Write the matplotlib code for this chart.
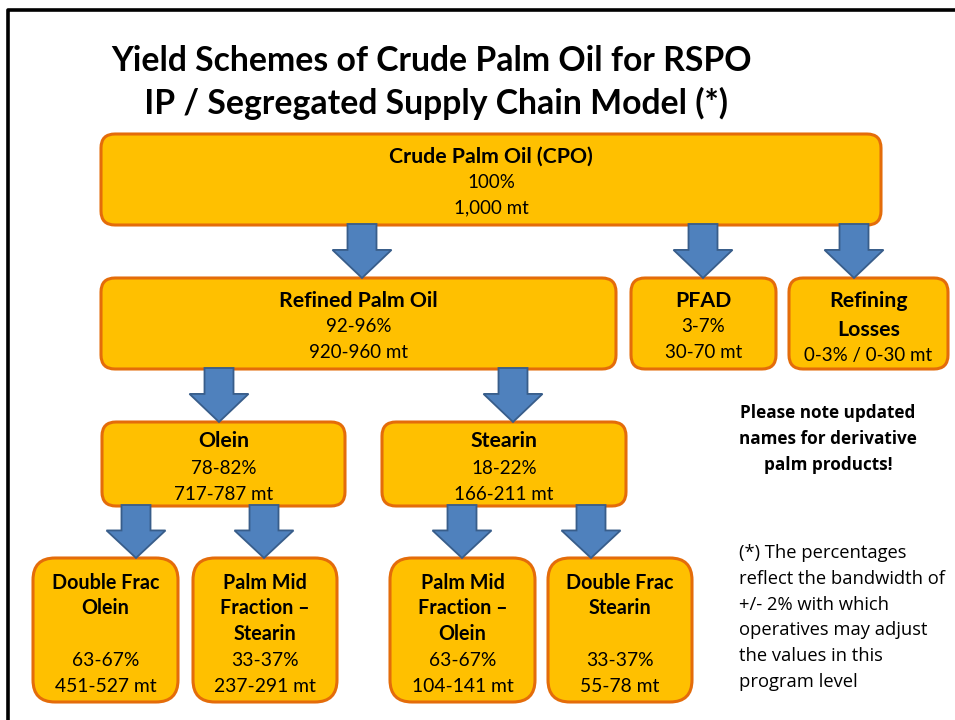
import matplotlib
matplotlib.use("Agg")
import matplotlib.pyplot as plt
from matplotlib.patches import FancyBboxPatch, Polygon
from matplotlib.lines import Line2D

# chart content
title_lines = ["Yield Schemes of Crude Palm Oil for RSPO",
               " IP / Segregated Supply Chain Model (*)"]

node_names = ["Crude Palm Oil (CPO)", "Refined Palm Oil", "PFAD", "Refining\nLosses",
              "Olein", "Stearin",
              "Double Frac\nOlein\n", "Palm Mid\nFraction \u2013\nStearin",
              "Palm Mid\nFraction \u2013\nOlein", "Double Frac\nStearin\n"]
node_pcts = ["100%", "92-96%", "3-7%", "0-3% / 0-30 mt",
             "78-82%", "18-22%",
             "63-67%", "33-37%", "63-67%", "33-37%"]
node_mt = ["1,000 mt", "920-960 mt", "30-70 mt", "",
           "717-787 mt", "166-211 mt",
           "451-527 mt", "237-291 mt", "104-141 mt", "55-78 mt"]
# parent index of each node (None = root)
node_parent = [None, 0, 0, 0, 1, 1, 4, 4, 5, 5]

note_lines = ["Please note updated", "names for derivative", "palm products!"]
foot_lines = ["(*) The percentages", "reflect the bandwidth of",
              "+/- 2% with which", "operatives may adjust",
              "the values in this", "program level"]

# layout (pixels): left, top, right, bottom, corner radius
boxes = [(101, 134, 881, 225, 14),
         (101, 278, 616, 369, 14),
         (631, 278, 776, 369, 14),
         (789, 278, 948, 369, 14),
         (102, 422, 345, 506, 14),
         (382, 422, 626, 506, 14),
         (33, 558, 178, 702, 22),
         (193, 558, 337, 702, 22),
         (390, 558, 535, 702, 22),
         (548, 558, 692, 702, 22)]
# arrow centre x for each child node
arrow_x = [None, 362, 703, 854, 219, 513, 136, 264, 462, 591]

FILL = "#FFC000"
EDGE = "#E46C0A"
AFILL = "#4F81BD"
AEDGE = "#385D8A"
SANS = ["Lato", "DejaVu Sans"]
SEGOE = ["Open Sans", "DejaVu Sans"]
NAME_FS = 15.3
NUM_FS = 13.5
SMALL_NAME_FS = 14.2

fig = plt.figure(figsize=(9.55, 7.2), dpi=100)
ax = fig.add_axes([0, 0, 1, 1])
ax.set_xlim(0, 955)
ax.set_ylim(720, 0)
ax.axis("off")

# slide frame (only left and top edges visible)
ax.add_line(Line2D([8, 8, 955], [720, 10, 10], color="black", lw=2.6))

ax.text(432, 61, title_lines[0], ha="center", va="center",
        fontsize=24.3, fontweight="bold", family=SANS)
ax.text(432, 103, title_lines[1], ha="center", va="center",
        fontsize=24.3, fontweight="bold", family=SANS)


def arrow(cx, top, tip):
    sw, hw = 14.5, 29.5
    neck = tip - (tip - top) * 0.52
    pts = [(cx - sw, top), (cx + sw, top), (cx + sw, neck), (cx + hw, neck),
           (cx, tip), (cx - hw, neck), (cx - sw, neck)]
    ax.add_patch(Polygon(pts, closed=True, fc=AFILL, ec=AEDGE, lw=1.3, zorder=3))


def label(x, y, s, fs, bold=False):
    ax.text(x, y, s, ha="center", va="center", fontsize=fs,
            fontweight="bold" if bold else "normal", family=SANS, zorder=4)


for i, (l, t, r, b, rad) in enumerate(boxes):
    ax.add_patch(FancyBboxPatch((l, t), r - l, b - t,
                                boxstyle="round,pad=0,rounding_size=%d" % rad,
                                fc=FILL, ec=EDGE, lw=2.2, zorder=2))
    cx = (l + r) / 2
    p = node_parent[i]
    if p is not None:
        arrow(arrow_x[i], boxes[p][3] - 1, t)

    name = node_names[i]
    if i in (0, 1, 2, 4, 5):
        dy = 25 if i != 4 and i != 5 else 26
        top = t + 23 if i < 4 else t + 19
        label(cx, top, name, NAME_FS, True)
        label(cx, top + dy + 1, node_pcts[i], NUM_FS)
        label(cx, top + 2 * dy + 1, node_mt[i], NUM_FS)
    elif i == 3:
        for k, line in enumerate(name.split("\n")):
            label(cx, t + 23 + 29 * k, line, NAME_FS, True)
        label(cx, t + 78, node_pcts[i], NUM_FS)
    else:
        for k, line in enumerate(name.split("\n")):
            if line:
                label(cx, t + 25 + 25.5 * k, line, SMALL_NAME_FS, True)
        label(cx, t + 102, node_pcts[i], NUM_FS + 0.4)
        label(cx, t + 128, node_mt[i], NUM_FS + 0.4)

for k, line in enumerate(note_lines):
    ax.text(828, 413 + 26 * k, line, ha="center", va="center", fontsize=12.3,
            fontweight="bold", family=SEGOE)
for k, line in enumerate(foot_lines):
    ax.text(739, 553 + 25.8 * k, line, ha="left", va="center", fontsize=13.2,
            family=SEGOE)

fig.savefig("out.png", dpi=100)
